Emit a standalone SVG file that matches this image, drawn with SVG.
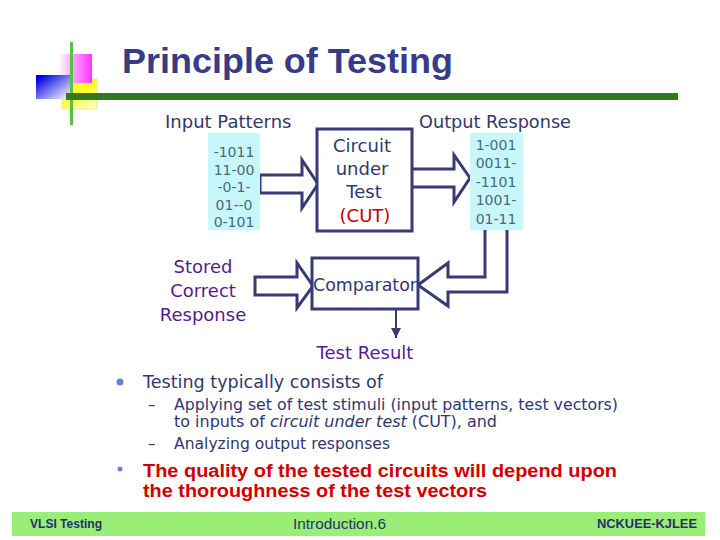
<svg xmlns="http://www.w3.org/2000/svg" width="720" height="540" viewBox="0 0 720 540">
<defs>
<linearGradient id="gMag" x1="0" y1="0" x2="1" y2="0"><stop offset="0" stop-color="#ffffff"/><stop offset="1" stop-color="#ff33ff"/></linearGradient>
<linearGradient id="gBlue" x1="0" y1="0" x2="1" y2="1"><stop offset="0.1" stop-color="#0000e0"/><stop offset="0.55" stop-color="#8080f0"/><stop offset="1" stop-color="#ffffff"/></linearGradient>
<linearGradient id="gYel" x1="0" y1="0" x2="0.6" y2="1"><stop offset="0" stop-color="#ffff66"/><stop offset="0.5" stop-color="#ffff22"/><stop offset="1" stop-color="#ffffaa"/></linearGradient>
<marker id="ah" viewBox="0 0 10 10" refX="10" refY="5" markerWidth="10" markerHeight="10" orient="auto" markerUnits="userSpaceOnUse"><path d="M0,0 L10,5 L0,10 Z" fill="#393a75"/></marker>
<style>
.lbl{font-family:"DejaVu Sans",Verdana,sans-serif;font-size:18px;fill:#323770}
.pur{font-family:"DejaVu Sans",Verdana,sans-serif;font-size:18px;fill:#561b8c}
.pat{font-family:"DejaVu Sans",Verdana,sans-serif;font-size:14px;fill:#4a6a78;text-anchor:middle}
.box{fill:#ffffff;stroke:#393a75;stroke-width:3}
.patbg{fill:#c8f7fb}
.barrow{fill:#ffffff;stroke:#393a75;stroke-width:3;stroke-linejoin:miter}
.body{font-family:"DejaVu Sans",Verdana,sans-serif;fill:#323770}
.red{font-family:"Liberation Sans",Arial,sans-serif;font-weight:bold;font-size:18px;fill:#d00000}
.foot{font-family:"Liberation Sans",Arial,sans-serif;fill:#28306a}
</style>
</defs>
<rect width="720" height="540" fill="#ffffff"/>

<g id="logo">
<rect x="62" y="79" width="35" height="30" fill="url(#gYel)" stroke="#f3e98a" stroke-width="1"/>
<rect x="58" y="54" width="34" height="29" fill="url(#gMag)"/>
<rect x="36" y="75" width="34" height="24" fill="url(#gBlue)"/>
<rect x="70" y="42" width="3" height="83" fill="#5cbf46"/>
<rect x="66" y="93" width="612" height="7" fill="#317a1f"/>
</g>
<g id="title">
<text x="122" y="73" font-family="'Liberation Sans',Arial,sans-serif" font-weight="bold" font-size="35" fill="#383c88" textLength="331" lengthAdjust="spacingAndGlyphs">Principle of Testing</text>
</g>

<g id="connectors">
<path class="barrow" d="M260,175 H302 V160 L318,184 L302,208 V193 H260 Z"/>
<path class="barrow" d="M413,169 H454 V155 L470,178 L454,202 V187 H413"/>
<path class="barrow" d="M485,230 V277 H448 V263 L418,285 L448,306 V292 H507 V230"/>
<path class="barrow" d="M255,277 H297 V263 L313,286 L297,308 V295 H255 Z"/>
<line x1="396" y1="309" x2="396" y2="338" stroke="#393a75" stroke-width="2" marker-end="url(#ah)"/>
</g>

<g id="input-patterns">
<text class="lbl" x="165" y="128">Input Patterns</text>
<rect class="patbg" x="208" y="133" width="52" height="97"/>
<text class="pat" x="234" y="157">-1011</text>
<text class="pat" x="234" y="175">11-00</text>
<text class="pat" x="234" y="192">-0-1-</text>
<text class="pat" x="234" y="210">01--0</text>
<text class="pat" x="234" y="227">0-101</text>
</g>

<g id="cut">
<rect class="box" x="317" y="129" width="95" height="102"/>
<text class="lbl" x="362" y="152" text-anchor="middle">Circuit</text>
<text class="lbl" x="362" y="175" text-anchor="middle">under</text>
<text class="lbl" x="364" y="198" text-anchor="middle">Test</text>
<text class="lbl" x="365" y="222" text-anchor="middle" style="fill:#c00000">(CUT)</text>
</g>

<g id="output-response">
<text class="lbl" x="419" y="128" textLength="152" lengthAdjust="spacingAndGlyphs">Output Response</text>
<rect class="patbg" x="470" y="133" width="53" height="97"/>
<text class="pat" x="496" y="150">1-001</text>
<text class="pat" x="496" y="168">0011-</text>
<text class="pat" x="496" y="187">-1101</text>
<text class="pat" x="496" y="205">1001-</text>
<text class="pat" x="496" y="224">01-11</text>
</g>

<g id="comparator">
<rect class="box" x="312" y="258" width="106" height="51"/>
<text class="lbl" x="365" y="291" text-anchor="middle" textLength="104" lengthAdjust="spacingAndGlyphs">Comparator</text>
</g>

<g id="stored">
<text class="pur" x="203" y="273" text-anchor="middle">Stored</text>
<text class="pur" x="203" y="297" text-anchor="middle">Correct</text>
<text class="pur" x="203" y="321" text-anchor="middle">Response</text>
</g>

<g id="test-result">
<text class="pur" x="365" y="359" text-anchor="middle">Test Result</text>
</g>

<g id="bullets">
<circle cx="120" cy="382" r="3.5" fill="#6a7fd0"/>
<text class="body" x="143" y="388" font-size="18" textLength="240" lengthAdjust="spacingAndGlyphs">Testing typically consists of</text>
<text class="body" x="148" y="410" font-size="15">–</text>
<text class="body" x="174" y="410" font-size="15.5" textLength="444" lengthAdjust="spacingAndGlyphs">Applying set of test stimuli (input patterns, test vectors)</text>
<text class="body" x="174" y="427" font-size="15.5" textLength="323" lengthAdjust="spacingAndGlyphs">to inputs of <tspan font-style="italic">circuit under test</tspan> (CUT), and</text>
<text class="body" x="148" y="449" font-size="15">–</text>
<text class="body" x="174" y="449" font-size="15.5" textLength="216" lengthAdjust="spacingAndGlyphs">Analyzing output responses</text>
<circle cx="120" cy="469" r="2.5" fill="#6a7fd0"/>
<text class="red" x="143" y="477" textLength="474" lengthAdjust="spacingAndGlyphs">The quality of the tested circuits will depend upon</text>
<text class="red" x="143" y="497" textLength="344" lengthAdjust="spacingAndGlyphs">the thoroughness of the test vectors</text>
</g>

<g id="footer">
<rect x="12" y="512" width="693" height="24" fill="#99ee77"/>
<text class="foot" x="30" y="528" font-size="12" font-weight="bold" textLength="72" lengthAdjust="spacingAndGlyphs">VLSI Testing</text>
<text class="foot" x="293" y="529" font-size="14" textLength="93" lengthAdjust="spacingAndGlyphs">Introduction.6</text>
<text class="foot" x="597" y="528" font-size="12.5" font-weight="bold" textLength="100" lengthAdjust="spacingAndGlyphs">NCKUEE-KJLEE</text>
</g>
</svg>
